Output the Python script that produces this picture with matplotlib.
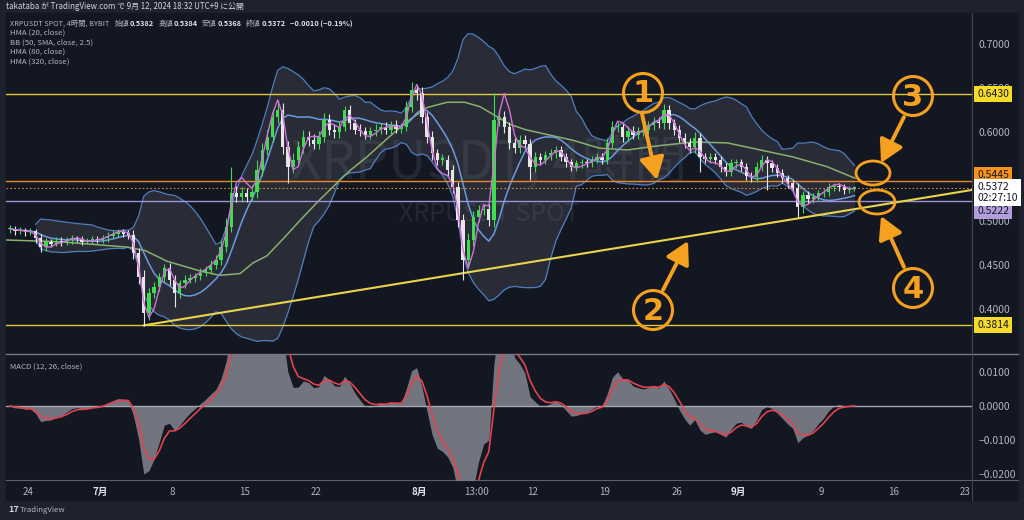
import numpy as np
import pandas as pd
import matplotlib
matplotlib.use('Agg')
import matplotlib.pyplot as plt
import matplotlib.transforms as mtransforms
from matplotlib.patches import Rectangle, Circle, Ellipse

plt.rcParams['font.family'] = ['Noto Sans CJK JP', 'DejaVu Sans']

# ---- data (12h candles, x in days from Jul 1) ----
start_day = -9.0
step = 0.5
first_open = 0.490
closes = [
    0.491, 0.488, 0.489, 0.487, 0.488, 0.480, 0.470, 0.476, 0.474, 0.477,
    0.475, 0.478, 0.480, 0.479, 0.476, 0.477, 0.479, 0.478, 0.480, 0.483,
    0.485, 0.487, 0.485, 0.484, 0.463, 0.436, 0.395, 0.418, 0.425, 0.436,
    0.446, 0.433, 0.418, 0.429, 0.433, 0.435, 0.437, 0.441, 0.444, 0.450,
    0.455, 0.470, 0.493, 0.531, 0.527, 0.531, 0.527, 0.532, 0.557, 0.580,
    0.595, 0.617, 0.625, 0.583, 0.561, 0.569, 0.583, 0.595, 0.591, 0.587,
    0.595, 0.614, 0.603, 0.600, 0.606, 0.625, 0.610, 0.603, 0.601, 0.597,
    0.601, 0.603, 0.606, 0.603, 0.608, 0.604, 0.606, 0.629, 0.648, 0.644,
    0.617, 0.595, 0.576, 0.569, 0.569, 0.557, 0.538, 0.501, 0.455, 0.478,
    0.504, 0.512, 0.513, 0.501, 0.614, 0.617, 0.606, 0.588, 0.582, 0.591,
    0.587, 0.561, 0.572, 0.569, 0.574, 0.576, 0.580, 0.572, 0.566, 0.561,
    0.565, 0.566, 0.565, 0.569, 0.572, 0.569, 0.588, 0.606, 0.606, 0.595,
    0.602, 0.597, 0.601, 0.603, 0.608, 0.612, 0.610, 0.625, 0.610, 0.603,
    0.594, 0.588, 0.583, 0.594, 0.572, 0.570, 0.572, 0.569, 0.561, 0.555,
    0.565, 0.566, 0.561, 0.551, 0.549, 0.561, 0.569, 0.565, 0.560, 0.554,
    0.548, 0.542, 0.537, 0.515, 0.529, 0.525, 0.527, 0.531, 0.532, 0.538,
    0.539, 0.538, 0.535, 0.536, 0.5372]
# wick lengths above / below the body, in 0.001
wick_up = [
    4, 3, 4, 3, 4, 3, 5, 4, 3, 4,   4, 3, 4, 3, 4, 3, 4, 3, 4, 4,
    4, 3, 4, 4, 5, 6, 8, 6, 5, 5,   5, 6, 5, 4, 5, 4, 4, 5, 4, 5,
    6, 8, 10, 30, 8, 7, 6, 8, 12, 8,   8, 9, 12, 8, 7, 8, 7, 8, 6, 7,
    7, 8, 7, 6, 7, 5, 6, 5, 6, 5,   5, 6, 5, 6, 5, 6, 5, 7, 9, 6,
    7, 6, 6, 5, 6, 5, 6, 6, 7, 8,   7, 6, 6, 6, 30, 8, 7, 6, 6, 6,
    6, 5, 6, 5, 5, 5, 5, 5, 4, 4,   4, 4, 4, 4, 4, 5, 6, 7, 6, 5,
    5, 5, 5, 5, 5, 5, 5, 7, 6, 5,   5, 5, 5, 6, 5, 4, 4, 4, 4, 4,
    5, 4, 4, 4, 4, 5, 5, 4, 4, 4,   4, 4, 4, 5, 5, 4, 4, 4, 4, 4,
    4, 3, 3, 3, 2]
wick_dn = [
    4, 4, 3, 4, 3, 5, 6, 4, 4, 3,   4, 3, 4, 3, 4, 3, 4, 3, 3, 4,
    3, 4, 4, 5, 6, 8, 14, 8, 6, 5,   5, 6, 16, 6, 5, 4, 5, 4, 4, 4,
    5, 5, 6, 6, 6, 6, 6, 5, 6, 6,   6, 6, 7, 8, 18, 7, 6, 6, 6, 6,
    6, 6, 6, 6, 6, 5, 6, 5, 5, 5,   5, 5, 5, 5, 5, 5, 5, 5, 6, 7,
    7, 7, 7, 6, 6, 6, 7, 8, 22, 8,   7, 6, 6, 7, 8, 7, 7, 7, 6, 6,
    6, 15, 6, 5, 5, 5, 5, 5, 5, 5,   5, 5, 4, 4, 4, 5, 5, 6, 6, 6,
    5, 5, 5, 5, 5, 5, 5, 6, 6, 6,   5, 6, 6, 6, 17, 5, 5, 5, 6, 5,
    5, 5, 5, 5, 5, 5, 5, 30, 5, 5,   5, 5, 5, 11, 6, 5, 5, 4, 4, 4,
    4, 4, 5, 4, 3]

# HMA(320)
hma320_days = [-9.1, -3.9, 2.6, 4.4, 6.5, 9.7, 11.65, 13.6, 14.85, 16.2, 18.0, 19.4,
               21.2, 22.6, 24.3, 25.9, 27.9, 29.8, 31.75, 33.7, 35.4, 36.9, 38.35,
               39.8, 41.3, 43.2, 45.9, 48.5, 51.2, 54.4, 57.6, 60.9, 64.1, 67.3,
               70.6, 73.3]
hma320_vals = [0.478, 0.476, 0.470, 0.466, 0.454, 0.443, 0.438, 0.440, 0.452, 0.460,
               0.482, 0.500, 0.522, 0.538, 0.557, 0.572, 0.593, 0.612, 0.628, 0.634,
               0.634, 0.629, 0.619, 0.609, 0.603, 0.598, 0.591, 0.582, 0.580, 0.585,
               0.589, 0.588, 0.580, 0.572, 0.561, 0.548]

# drawn levels
level_high = 0.6430
level_res = 0.5445
level_last = 0.5372
level_sup = 0.5222
level_low = 0.3814
trend_days = [4.27, 84.66]
trend_vals = [0.3814, 0.5347]

x_tick_days = [-7, 0, 7, 14, 21, 31, 36.54, 42, 49, 56, 62, 70, 77, 84]
x_tick_labels = ['24', '7月', '8', '15', '22', '8月', '13:00', '12', '19', '26', '9月', '9', '16', '23']
price_ticks = [0.40, 0.45, 0.50, 0.60, 0.65, 0.70]
macd_ticks = [0.01, 0.0, -0.01, -0.02]

# ---- indicators ----
c = np.array(closes)
o = np.r_[first_open, c[:-1]]
hi = np.maximum(o, c) + np.array(wick_up) / 1000
lo = np.minimum(o, c) - np.array(wick_dn) / 1000
xc = start_day + step * np.arange(len(c)) + step / 2


def wma(a, n):
    out = np.empty(len(a))
    for i in range(len(a)):
        w = np.arange(1, min(n, i + 1) + 1)
        out[i] = np.dot(a[i + 1 - len(w):i + 1], w) / w.sum()
    return out


def hma(a, n_half, n_full, n_smooth):
    return wma(2 * wma(a, n_half) - wma(a, n_full), n_smooth)


hma20 = hma(c, 3, 7, 2)
hma80 = hma(c, 13, 27, 3)
s = pd.Series(c)
basis = s.rolling(17, min_periods=6).mean()
dev = s.rolling(17, min_periods=6).std(ddof=0)
bb_up = (basis + 2.5 * dev).values
bb_lo = (basis - 2.5 * dev).values
macd = (s.ewm(alpha=0.394, adjust=False).mean() - s.ewm(alpha=0.206, adjust=False).mean()).values
signal = pd.Series(macd).ewm(alpha=0.488, adjust=False).mean().values

# ---- figure ----
W, H = 1024, 520
BG = '#131722'
STRIP = '#1e222d'
TXT = '#b2b5be'
WHITE = '#e0e3eb'
ORANGE = '#f5a01e'

fig = plt.figure(figsize=(W / 100, H / 100), dpi=100, facecolor=STRIP)


def box(x0, y0, x1, y1):
    return [x0 / W, 1 - y1 / H, (x1 - x0) / W, (y1 - y0) / H]


bg = fig.add_axes(box(0, 0, W, H), zorder=0)
bg.set_xlim(0, W)
bg.set_ylim(H, 0)
bg.axis('off')
bg.add_patch(Rectangle((6, 13), 1012, 487, color=BG))
bg.plot([6, 1018], [354, 354], color='#787b86', lw=1)
bg.plot([6, 1018], [480, 480], color='#5d606b', lw=0.8)
bg.plot([972, 972], [13, 500], color='#434651', lw=0.8)

ax = fig.add_axes(box(6, 13, 972, 354), zorder=2)
am = fig.add_axes(box(6, 354, 972, 480), zorder=2, sharex=ax)
for a in (ax, am):
    a.set_facecolor('none')
    for sp in a.spines.values():
        sp.set_visible(False)
    a.yaxis.tick_right()
    a.tick_params(axis='y', length=0, pad=5, labelsize=7.5, labelcolor=TXT)

ax.set_xlim(-9.126, 84.66)
ax.set_ylim(0.3489, 0.7351)
am.set_ylim(-0.02176, 0.01529)

# watermark
ax.text(0.5, 0.56, 'XRPUSDT, 4時間', transform=ax.transAxes, ha='center', va='center',
        fontsize=38, color='#8a8d99', alpha=0.15, zorder=0)
ax.text(0.5, 0.41, 'XRPUSDT SPOT', transform=ax.transAxes, ha='center', va='center',
        fontsize=18, color='#8a8d99', alpha=0.15, zorder=0)

# bollinger band and moving averages
ax.fill_between(xc, bb_lo, bb_up, color='#787b86', alpha=0.22, lw=0, zorder=1)
ax.plot(xc, bb_up, color='#4f7ec0', lw=0.9, zorder=2)
ax.plot(xc, bb_lo, color='#4f7ec0', lw=0.9, zorder=2)
ax.plot(hma320_days, hma320_vals, color='#87b06c', lw=1.1, zorder=2)
ax.plot(xc, hma80, color='#6a9be0', lw=1.1, zorder=2)

# levels
ax.axhline(level_high, color='#e3c83a', lw=1.0, zorder=3)
ax.axhline(level_low, color='#e3c83a', lw=1.0, zorder=3)
ax.axhline(level_res, color='#e68a2a', lw=1.0, zorder=3)
ax.axhline(level_sup, color='#9d92d6', lw=1.0, zorder=3)
ax.axhline(level_last, color='#d08a3a', lw=0.8, ls=(0, (1.5, 2)), zorder=3)
ax.plot(trend_days, trend_vals, color='#e8d44d', lw=1.5, zorder=3)

# candles
up = c >= o
cols = np.where(up, '#3fdc4f', '#e6e6e6')
ax.vlines(xc, lo, hi, colors=cols, lw=0.8, zorder=4)
ax.bar(xc, np.maximum(np.abs(c - o), 0.0015), bottom=np.minimum(o, c), width=0.32,
       color=cols, lw=0, zorder=5)
ax.plot(xc, hma20, color='#d070d8', lw=1.0, zorder=6)

# price axis
ax.set_yticks(price_ticks)
ax.set_yticklabels(['%.4f' % v for v in price_ticks])
ax.tick_params(axis='x', bottom=False, labelbottom=False)

tr = mtransforms.offset_copy(mtransforms.blended_transform_factory(ax.transAxes, ax.transData),
                             fig=fig, x=5, units='dots')
tags = [(level_high, '0.6430', '#f5dc2a'), (0.5513, '0.5445', '#f7931a'),
        (0.5108, '0.5222', '#b39ddb'), (level_low, '0.3814', '#f5dc2a')]
for val, txt, fc in tags:
    ax.text(1.0, val, txt, transform=tr, ha='left', va='center', fontsize=7.5,
            color='#131722', bbox=dict(boxstyle='square,pad=0.3', fc=fc, ec='none'),
            clip_on=False, zorder=8)
ax.text(1.0, level_last - 0.0055, '0.5372\n02:27:10', transform=tr, ha='left', va='center',
        fontsize=7.5, color='#131722', linespacing=1.15,
        bbox=dict(boxstyle='square,pad=0.3', fc='white', ec='none'), clip_on=False, zorder=8)

# macd
am.fill_between(xc, 0, macd, color='#787b86', alpha=0.95, lw=0, zorder=1)
am.axhline(0, color='#a3a6af', lw=1.0, zorder=2)
am.plot(xc, signal, color='#e2434f', lw=1.2, zorder=3)
am.set_yticks(macd_ticks)
am.set_yticklabels(['%.4f' % v if v >= 0 else '−%.4f' % -v for v in macd_ticks])
am.set_xticks(x_tick_days)
am.set_xticklabels(x_tick_labels)
am.tick_params(axis='x', length=0, pad=5, labelsize=7, labelcolor=TXT)
for lab in am.get_xticklabels():
    if '月' in lab.get_text():
        lab.set_color(WHITE)
        lab.set_fontweight('bold')
am.text(0.004, 0.93, 'MACD (12, 26, close)', transform=am.transAxes, fontsize=5.6,
        color=TXT, va='top')

# ---- overlay: header, legend, annotations ----
ov = fig.add_axes(box(0, 0, W, H), zorder=10)
ov.set_xlim(0, W)
ov.set_ylim(H, 0)
ov.axis('off')
ov.patch.set_alpha(0)
renderer = fig.canvas.get_renderer()


def text_row(x, y, parts, size=5.3):
    # place text pieces one after another
    for txt, col, weight, gap in parts:
        t = ov.text(x, y, txt, fontsize=size, color=col, fontweight=weight, va='center')
        bb = t.get_window_extent(renderer)
        x = ov.transData.inverted().transform((bb.x1, bb.y0))[0] + gap


ov.text(6, 6.5, 'takataba が TradingView.com で 9月 12, 2024 18:32 UTC+9 に公開',
        fontsize=5.7, color='#d1d4dc', va='center')
text_row(10, 24, [('XRPUSDT SPOT, 4時間, BYBIT', TXT, 'normal', 5),
                  ('始値', TXT, 'normal', 1), ('0.5382', WHITE, 'bold', 4),
                  ('高値', TXT, 'normal', 1), ('0.5384', WHITE, 'bold', 4),
                  ('安値', TXT, 'normal', 1), ('0.5368', WHITE, 'bold', 4),
                  ('終値', TXT, 'normal', 1), ('0.5372', WHITE, 'bold', 4),
                  ('−0.0010 (−0.19%)', WHITE, 'bold', 0)])
for yy, t in [(33, 'HMA (20, close)'), (43, 'BB (50, SMA, close, 2.5)'),
              (52, 'HMA (80, close)'), (62, 'HMA (320, close)')]:
    ov.text(10, yy, t, fontsize=5.6, color=TXT, va='center')

ov.text(8, 510, '17', fontsize=6.5, color='#d1d4dc', va='center', fontweight='bold')
ov.text(20, 510, 'TradingView', fontsize=5.6, color='#b2b5be', va='center')

# circled numbers
for (cx, cy), num in [((643, 93), '1'), ((653, 310), '2'), ((913, 96), '3'), ((913, 288), '4')]:
    ov.add_patch(Circle((cx, cy), 19.5, fill=False, ec=ORANGE, lw=2.2))
    ov.text(cx, cy + 1, num, ha='center', va='center', fontsize=22, color=ORANGE,
            fontweight='bold', family='DejaVu Sans')
ov.add_patch(Ellipse((873, 173), 34, 24, fill=False, ec=ORANGE, lw=2))
ov.add_patch(Ellipse((877, 202), 36, 24, fill=False, ec=ORANGE, lw=2))
for tail, tip in [((642, 114), (657, 180)), ((663, 290), (688, 241)),
                  ((904, 117), (881, 163)), ((904, 267), (881, 216))]:
    ov.annotate('', xy=tip, xytext=tail,
                arrowprops=dict(arrowstyle='-|>,head_length=0.9,head_width=0.5', lw=2.8,
                                color=ORANGE, shrinkA=0, shrinkB=0, mutation_scale=15))

fig.savefig('out.png', dpi=100, facecolor=fig.get_facecolor())
